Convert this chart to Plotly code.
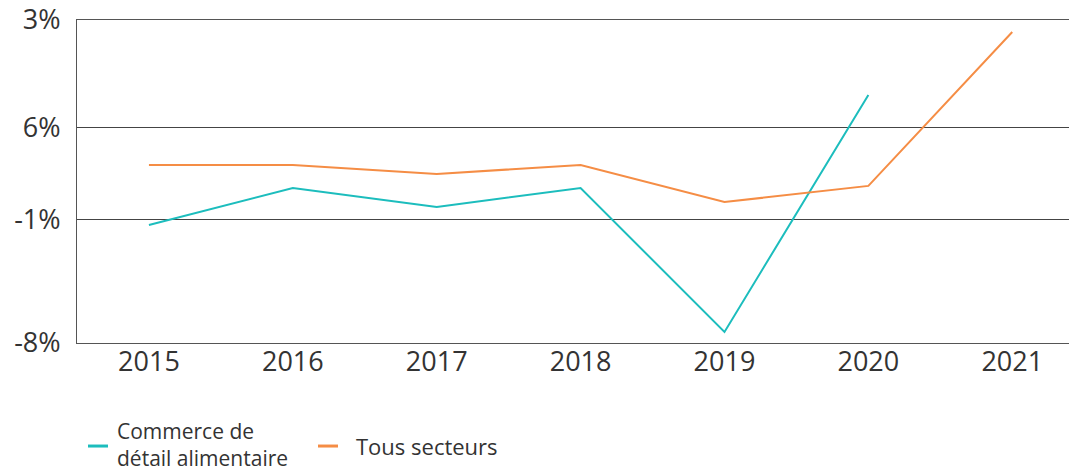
import plotly.graph_objects as go

years = [2015, 2016, 2017, 2018, 2019, 2020, 2021]
commerce = [-1.28, 0.82, -0.26, 0.82, -7.37, 6.11]
tous = [2.13, 2.13, 1.62, 2.13, 0.02, 0.94, 9.70]

tick_vals = [-8, -1, 4.24, 10.38]
tick_text = ["-8%", "-1%", "6%", "3%"]

series_names = ["Commerce de<br>détail alimentaire", "Tous secteurs"]
teal = "#1cbdbd"
orange = "#f58d45"

fig = go.Figure()
fig.add_trace(go.Scatter(x=years[:len(commerce)], y=commerce, mode="lines",
                         name=series_names[0], showlegend=False,
                         line=dict(color=teal, width=2)))
fig.add_trace(go.Scatter(x=years, y=tous, mode="lines", name=series_names[1],
                         showlegend=False, line=dict(color=orange, width=2)))

# manual legend (short swatches); page body has an 8px margin
LY = -0.319
lfont = dict(size=21, color="#333333")
fig.add_shape(type="line", xref="paper", yref="paper", x0=0.011, x1=0.031,
              y0=LY, y1=LY, line=dict(color=teal, width=3))
fig.add_annotation(xref="paper", yref="paper", x=0.038, y=LY + 0.006,
                   text=series_names[0], showarrow=False, xanchor="left",
                   yanchor="middle", align="left", font=lfont)
fig.add_shape(type="line", xref="paper", yref="paper", x0=0.241, x1=0.261,
              y0=LY, y1=LY, line=dict(color=orange, width=3))
fig.add_annotation(xref="paper", yref="paper", x=0.277, y=LY,
                   text=series_names[1], showarrow=False, xanchor="left",
                   yanchor="middle", font=dict(size=22, color="#333333"))

fig.update_layout(
    width=1069, height=466,
    margin=dict(l=69, r=0, t=12, b=131),
    paper_bgcolor="white", plot_bgcolor="white",
    font=dict(family="Open Sans", color="#333333"),
    xaxis=dict(range=[2014.5, 2021.45], tickvals=years, ticktext=[str(y) for y in years],
               showgrid=False, zeroline=False, showline=True, linecolor="#555555",
               linewidth=1, mirror=True, tickfont=dict(size=27), ticks="",
               ticklabelstandoff=-5, automargin=False),
    yaxis=dict(range=[-8, 10.38], tickvals=tick_vals, ticktext=tick_text,
               showgrid=True, gridcolor="#444444", gridwidth=1, zeroline=False,
               showline=True, linecolor="#555555", linewidth=1,
               tickfont=dict(size=27), ticks="", ticklabelstandoff=10,
               ticklabeloverflow="allow", automargin=False),
    showlegend=False,
)

fig.write_html("out.html")
